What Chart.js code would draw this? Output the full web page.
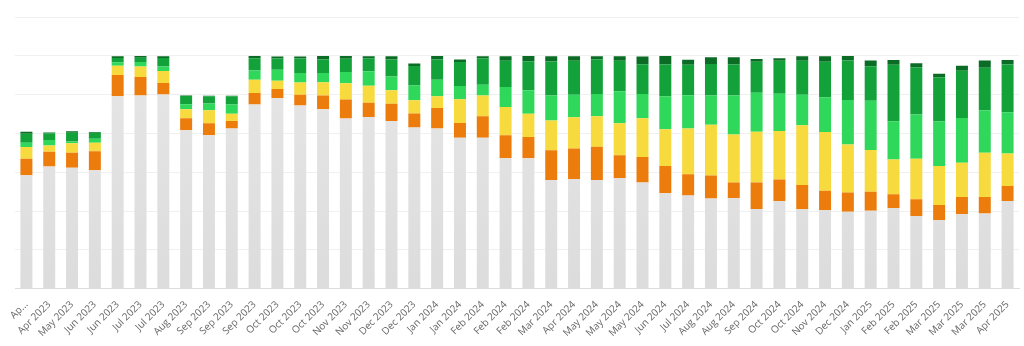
<!DOCTYPE html>
<html>
<head>
<meta charset="utf-8">
<script src="https://cdn.jsdelivr.net/npm/chart.js@4"></script>
<style>
  html, body { margin: 0; padding: 0; background: #fff; }
  #wrap { width: 1024px; height: 346px; }
</style>
</head>
<body>
<div id="wrap"><canvas id="stackChart" width="1024" height="346"></canvas></div>
<script>
// Month labels under each bar
const categories = [
  'Apr 2023', 'Apr 2023', 'May 2023', 'Jun 2023', 'Jun 2023', 'Jul 2023', 'Jul 2023', 'Aug 2023',
  'Sep 2023', 'Sep 2023', 'Sep 2023', 'Oct 2023', 'Oct 2023', 'Oct 2023', 'Nov 2023', 'Nov 2023',
  'Dec 2023', 'Dec 2023', 'Jan 2024', 'Jan 2024', 'Feb 2024', 'Feb 2024', 'Feb 2024', 'Mar 2024',
  'Apr 2024', 'May 2024', 'May 2024', 'May 2024', 'Jun 2024', 'Jul 2024', 'Aug 2024', 'Aug 2024',
  'Sep 2024', 'Oct 2024', 'Oct 2024', 'Nov 2024', 'Dec 2024', 'Jan 2025', 'Feb 2025', 'Feb 2025',
  'Mar 2025', 'Mar 2025', 'Mar 2025', 'Apr 2025'
];

// Stacked segments, bottom to top
const greyValues = [
  58.5, 62.9, 62.3, 61.0, 99.2, 99.6, 100.1, 81.7, 79.1, 82.5, 94.9, 98.3, 94.4, 92.4, 87.7, 88.5,
  86.4, 83.0, 82.5, 77.8, 77.8, 67.2, 67.2, 56.0, 56.4, 56.0, 56.9, 54.7, 49.2, 48.0, 46.5, 46.6,
  41.0, 45.2, 40.9, 40.4, 39.6, 40.2, 41.5, 37.5, 35.3, 38.3, 38.8, 45.2
];
const orangeValues = [
  8.5, 7.6, 7.8, 9.8, 10.9, 9.5, 5.9, 6.1, 6.2, 3.9, 5.9, 4.6, 5.5, 7.1, 9.8, 7.3,
  8.9, 7.3, 10.6, 7.6, 11.1, 11.9, 11.0, 15.3, 15.8, 17.1, 11.8, 13.2, 14.0, 11.0, 11.8, 8.1,
  13.7, 11.1, 12.5, 10.0, 9.9, 9.7, 7.2, 8.6, 7.8, 8.9, 8.5, 7.7
];
const yellowValues = [
  6.0, 3.3, 4.8, 4.4, 4.8, 5.4, 6.2, 4.6, 6.6, 3.8, 6.8, 4.3, 6.4, 6.9, 8.4, 8.8,
  6.9, 6.8, 6.0, 12.2, 10.6, 14.5, 11.9, 15.4, 16.2, 15.8, 16.6, 19.9, 18.9, 23.6, 26.2, 24.8,
  26.2, 24.9, 30.8, 30.3, 24.8, 21.5, 17.9, 20.9, 20.1, 17.7, 22.7, 16.8
];
const lightGreenValues = [
  2.2, 2.8, 1.0, 2.1, 1.8, 2.3, 2.3, 2.7, 3.5, 4.7, 4.8, 5.6, 4.8, 4.8, 5.7, 7.5,
  7.2, 7.6, 8.6, 6.8, 5.6, 10.3, 12.1, 12.8, 11.5, 11.4, 16.4, 12.5, 17.1, 17.1, 15.1, 20.1,
  20.0, 19.2, 15.7, 18.0, 22.9, 25.4, 19.7, 22.7, 23.0, 23.0, 21.9, 21.2
];
const greenValues = [
  4.6, 3.5, 4.4, 3.1, 2.2, 2.2, 4.4, 4.2, 3.8, 4.3, 6.4, 5.8, 7.5, 6.9, 6.9, 6.6,
  8.7, 10.1, 10.4, 12.4, 13.7, 13.6, 15.0, 17.6, 17.6, 17.9, 15.8, 15.4, 16.3, 15.7, 16.2, 15.9,
  16.1, 17.0, 17.6, 18.3, 20.4, 17.8, 29.1, 24.4, 22.8, 24.4, 21.9, 24.6
];
const darkGreenValues = [
  1.1, 0.4, 0.8, 0.3, 0.9, 0.9, 0.9, 0.2, 0.2, 0.2, 1.1, 1.1, 1.1, 1.8, 1.4, 1.1,
  1.7, 1.2, 1.8, 1.3, 1.0, 2.3, 2.7, 2.7, 2.3, 1.6, 2.3, 4.0, 4.4, 2.6, 3.4, 3.7,
  1.4, 1.4, 2.3, 2.8, 2.3, 3.0, 2.4, 2.1, 1.7, 2.6, 3.8, 2.4
];

// Value axis (labels hidden in the reference)
const yMax = 140;
const yStep = 20;

const ctx = document.getElementById('stackChart').getContext('2d');

// soft vertical gradient on the grey base segment
function greyFill(context) {
  const area = context.chart.chartArea;
  if (!area) return '#e2e2e2';
  const g = context.chart.ctx.createLinearGradient(0, area.top, 0, area.bottom);
  g.addColorStop(0, '#e8e8e8');
  g.addColorStop(1, '#dcdcdc');
  return g;
}

function segment(label, data, color) {
  return {
    label: label,
    data: data,
    backgroundColor: color,
    borderWidth: 0,
    barPercentage: 0.525,
    categoryPercentage: 1.0
  };
}

new Chart(ctx, {
  type: 'bar',
  data: {
    labels: categories,
    datasets: [
      segment('Grey', greyValues, greyFill),
      segment('Orange', orangeValues, '#ec7d0d'),
      segment('Yellow', yellowValues, '#f6da3e'),
      segment('Light green', lightGreenValues, '#2fd75b'),
      segment('Green', greenValues, '#13a23a'),
      segment('Dark green', darkGreenValues, '#0b6c25')
    ]
  },
  options: {
    responsive: false,
    animation: false,
    layout: { padding: { left: 15, right: 5, top: 17, bottom: 5 } },
    plugins: {
      legend: { display: false },
      tooltip: { enabled: false }
    },
    scales: {
      x: {
        stacked: true,
        grid: { display: false },
        border: { display: true, color: '#dcdcdc' },
        ticks: {
          autoSkip: false,
          maxRotation: 45,
          minRotation: 45,
          color: '#666',
          font: { family: 'Open Sans', size: 10 },
          padding: 2,
          callback: function (value, index) {
            // first label is clipped in the original
            return index === 0 ? 'Ap...' : this.getLabelForValue(value);
          }
        }
      },
      y: {
        stacked: true,
        min: 0,
        max: yMax,
        ticks: { display: false, stepSize: yStep },
        grid: { color: '#f0f0f0', drawTicks: false },
        border: { display: false }
      }
    }
  }
});
</script>
</body>
</html>
